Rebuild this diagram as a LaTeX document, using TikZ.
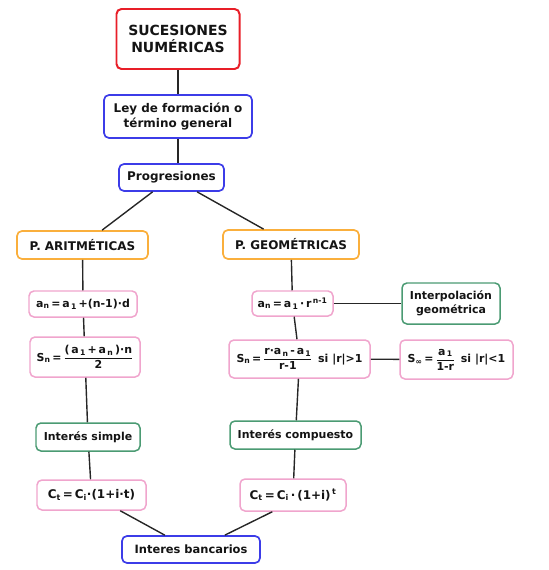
\documentclass[tikz,border=0pt]{standalone}
\usepackage{fontspec}
\setmainfont{DejaVu Sans}
\definecolor{rojo}{RGB}{232,30,40}
\definecolor{azul}{RGB}{60,60,232}
\definecolor{naranja}{RGB}{250,175,60}
\definecolor{rosa}{RGB}{240,165,205}
\definecolor{verde}{RGB}{75,155,115}
\definecolor{texto}{RGB}{20,20,20}
\newcommand{\sub}[1]{\textsubscript{#1}}
\newcommand{\frc}[2]{$\displaystyle\frac{\hbox{#1}}{\hbox{#2}}$}
\tikzset{
caja/.style={draw, rounded corners=5pt, line width=1.7pt, fill=white, align=center, inner sep=2pt, text=texto},
titulo/.style={caja, draw=rojo, line width=2pt, font=\fontsize{14}{17}\selectfont\bfseries},
azulbox/.style={caja, draw=azul, font=\fontsize{12}{16}\selectfont\bfseries},
naranjabox/.style={caja, draw=naranja, font=\fontsize{12}{15}\selectfont\bfseries},
rosabox/.style={caja, draw=rosa, line width=1.5pt, font=\fontsize{11}{13}\selectfont\bfseries},
verdebox/.style={caja, draw=verde, line width=1.5pt, font=\fontsize{11}{14}\selectfont\bfseries},
linea/.style={draw=black!85, line width=1.4pt}
}
\begin{document}
\begin{tikzpicture}[x=1bp,y=-1bp]
\useasboundingbox (0,0) rectangle (549,570);
\node[titulo, minimum width=123bp, minimum height=60bp] (suc) at (178,39) {SUCESIONES\\NUMÉRICAS};
\node[azulbox, minimum width=148bp, minimum height=43bp] (ley) at (178,116.5) {Ley de formación o\\término general};
\node[azulbox, minimum width=105bp, minimum height=27bp] (prog) at (171.5,177.5) {Progresiones};
\node[naranjabox, minimum width=131bp, minimum height=28bp] (arit) at (82.5,245) {P. ARITMÉTICAS};
\node[naranjabox, minimum width=136bp, minimum height=29bp] (geom) at (291,244.5) {P. GEOMÉTRICAS};
\node[rosabox, minimum width=108bp, minimum height=26bp] (an1) at (83,304) {a\sub{n}\,=\,a\sub{\,1}\,+(n-1)·d};
\node[rosabox, minimum width=110bp, minimum height=40bp] (sn1) at (85,357) {S\sub{n}\,=\,\frc{(\,a\sub{\,1}\,+\,a\sub{\,n}\,)·n}{2}};
\node[rosabox, minimum width=81bp, minimum height=25bp] (an2) at (292.5,303.5) {a\sub{n}\,=\,a\sub{\,1}\,·\,r\textsuperscript{\,n-1}};
\node[verdebox, minimum width=98bp, minimum height=41bp] (interp) at (451,303.5) {Interpolación\\geométrica};
\node[rosabox, minimum width=141bp, minimum height=38bp] (sn2) at (299.5,359) {S\sub{n}\,=\,\frc{r·a\sub{\,n}\,-\,a\sub{\,1}}{r-1}\, si |r|>1};
\node[rosabox, minimum width=113bp, minimum height=39bp] (sinf) at (456.5,359.5) {S\sub{∞}\,=\,\frc{a\sub{\,1}}{1-r}\, si |r|<1};
\node[verdebox, minimum width=104bp, minimum height=28bp] (isim) at (88,437) {Interés simple};
\node[verdebox, minimum width=131bp, minimum height=28bp] (icomp) at (295.5,435) {Interés compuesto};
\node[rosabox, font=\fontsize{12}{14}\selectfont\bfseries, minimum width=109bp, minimum height=30bp] (ct1) at (91.5,495) {C\sub{t}\,=\,C\sub{i}·(1+i·t)};
\node[rosabox, font=\fontsize{12}{14}\selectfont\bfseries, minimum width=106bp, minimum height=32bp] (ct2) at (293,495) {C\sub{t}\,=\,C\sub{i}\,·\,(1+i)\textsuperscript{\,t}};
\node[azulbox, font=\fontsize{11.5}{14}\selectfont\bfseries, minimum width=138bp, minimum height=27bp] (banc) at (191,549.5) {Interes bancarios};
% conexiones
\draw[linea] (suc) -- (ley);
\draw[linea] (ley) -- (ley |- prog.north);
\draw[linea] (prog) -- (arit);
\draw[linea] (prog) -- (geom);
\draw[linea] (arit) -- (an1);
\draw[linea] (an1) -- (sn1);
\draw[linea] (sn1) -- (isim);
\draw[linea] (isim) -- (ct1);
\draw[linea] (geom) -- (an2);
\draw[linea] (an2) -- (interp);
\draw[linea] (an2) -- (sn2);
\draw[linea] (sn2) -- (sinf);
\draw[linea] (sn2) -- (icomp);
\draw[linea] (icomp) -- (ct2);
\draw[linea] (ct1) -- (banc);
\draw[linea] (ct2.219) -- (banc.23);
\end{tikzpicture}
\end{document}
